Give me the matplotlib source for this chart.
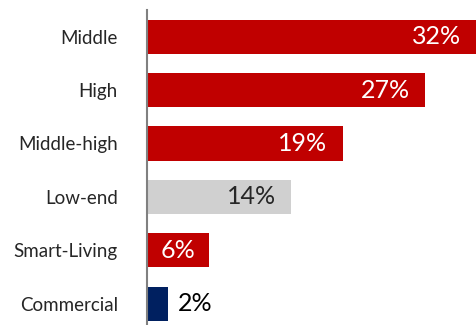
import matplotlib.pyplot as plt

categories = ['Middle', 'High', 'Middle-high', 'Low-end', 'Smart-Living', 'Commercial']
shares = [32, 27, 19, 14, 6, 2]
bar_colors = ['#C00000', '#C00000', '#C00000', '#D0D0D0', '#C00000', '#002060']

plt.rcParams['font.family'] = ['Lato', 'DejaVu Sans']

fig = plt.figure(figsize=(4.77, 3.25), dpi=100)
ax = fig.add_axes([147 / 477, 0.0, 1 - 147 / 477, 1 - 10 / 325])

pos = list(range(len(categories)))
bars = ax.barh(pos, shares, height=0.64, color=bar_colors)

ax.set_xlim(0, 32)
ax.set_ylim(5.4, -0.5)

# value labels: white inside red bars, dark inside grey, outside for small bar
for b, v, c in zip(bars, shares, bar_colors):
    y = b.get_y() + b.get_height() / 2
    if v <= 3:
        ax.text(v + 1.0, y, f'{v}%', va='center', ha='left', fontsize=18, color='black')
    elif v <= 6:
        ax.text(v / 2, y, f'{v}%', va='center', ha='center', fontsize=18, color='white')
    else:
        txt_color = 'white' if c != '#D0D0D0' else '#262626'
        ax.text(v - 1.5, y, f'{v}%', va='center', ha='right', fontsize=18, color=txt_color)

ax.set_yticks(pos)
ax.set_yticklabels(categories, fontsize=13.5, color='#262626')
ax.tick_params(axis='y', length=0, pad=21)
ax.set_xticks([])

for s in ['top', 'right', 'bottom']:
    ax.spines[s].set_visible(False)
ax.spines['left'].set_color('#808080')
ax.spines['left'].set_linewidth(1.5)

fig.savefig('out.png', dpi=100)
